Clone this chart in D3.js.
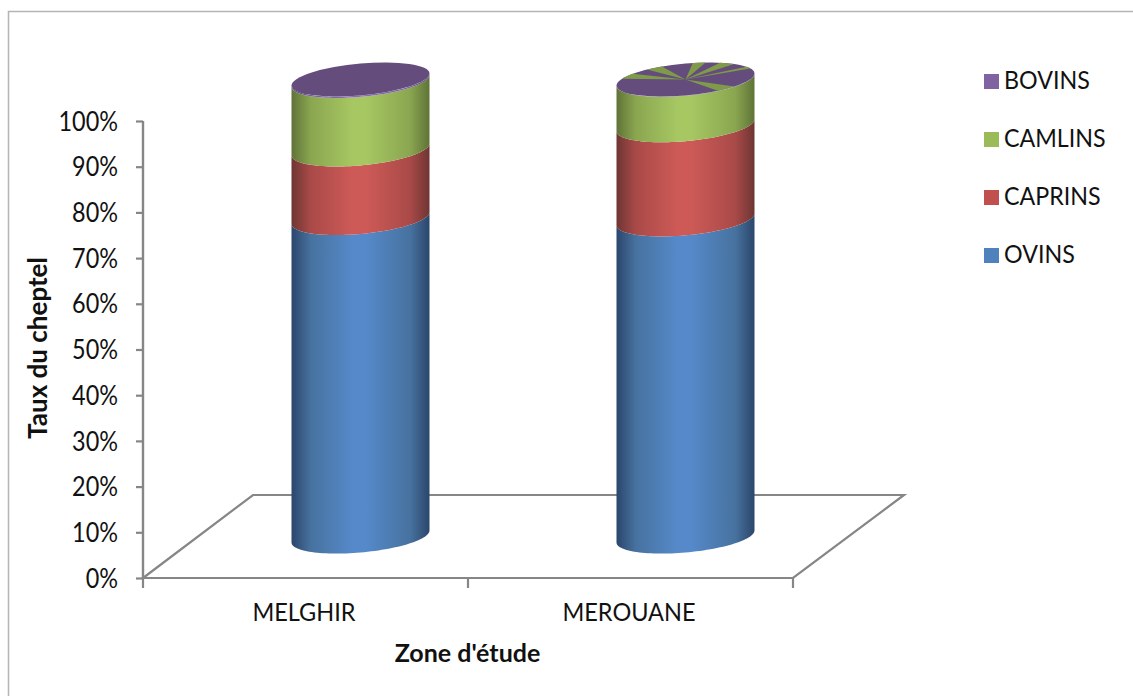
<!DOCTYPE html>
<html>
<head>
<meta charset="utf-8">
<style>
html,body{margin:0;padding:0;background:#fff;overflow:hidden}
svg{display:block}
text{font-family:Lato,"Liberation Sans",sans-serif;fill:#111}
</style>
<script src="https://cdn.jsdelivr.net/npm/d3@7/dist/d3.min.js"></script>
</head>
<body>
<svg id="chart" width="1133" height="696"></svg>
<script>
// Livestock share by study zone, stacked 3D cylinders
const zones = ["MELGHIR", "MEROUANE"];
const seriesNames = ["OVINS", "CAPRINS", "CAMLINS", "BOVINS"];
const ovins = [69.7, 69.4];
const caprins = [15.0, 20.6];
const camlins = [15.0, 9.95];
const bovins = [0.3, 0.05];
const seriesValues = [ovins, caprins, camlins, bovins];
const yTicks = [0, 10, 20, 30, 40, 50, 60, 70, 80, 90, 100];
// Sectors of the second cap where the camel colour shows through, degrees on the cap
const capWedges = [[203, 220], [236, 250], [276, 287], [300, 315], [332, 340], [45, 62]];

const palette = {
  OVINS:   {swatch: "#4f81bd", edge: "#2b466b", mid: "#47729f", light: "#5589c9"},
  CAPRINS: {swatch: "#c0504d", edge: "#6e3533", mid: "#a94a48", light: "#cd5a57"},
  CAMLINS: {swatch: "#9bbb59", edge: "#5f7337", mid: "#8aa650", light: "#a6c762"},
  BOVINS:  {swatch: "#8064a2", edge: "#5d4a76", mid: "#7560a0", light: "#8a6db0"}
};
const capPurple = "#644d7c";
const capGreen = "#7f9a48";
const axisGrey = "#868686";

const svg = d3.select("#chart");
const plot = {left: 143, right: 793, bottom: 578, top: 121};
const depth = {x: 110, y: -83};

const x = d3.scaleBand().domain(zones).range([plot.left, plot.right]);
const y = d3.scaleLinear().domain([0, 100]).range([plot.bottom, plot.top]);

// Squeeze a text selection horizontally, keeping its height
const narrow = (sel, factor) => sel.each(function () {
  this.setAttribute("textLength", this.getComputedTextLength() * factor);
  this.setAttribute("lengthAdjust", "spacingAndGlyphs");
});

// Horizontal shading that makes each band read as a curved surface
const defs = svg.append("defs");
seriesNames.forEach(name => {
  const c = palette[name];
  const g = defs.append("linearGradient").attr("id", "shade-" + name)
    .attr("x1", 0).attr("x2", 1).attr("y1", 0).attr("y2", 0);
  [[0, c.edge], [0.14, c.mid], [0.44, c.light], [0.54, c.light], [0.86, c.mid], [1, c.edge]].forEach(([o, col]) =>
    g.append("stop").attr("offset", o).attr("stop-color", col));
});

// Chart frame: only the top and left sides fall inside the canvas
svg.append("path").attr("d", "M8.5,696V11.5H1133").attr("fill", "none").attr("stroke", "#b5b5b5").attr("stroke-width", 1.5);

// Floor parallelogram
const floor = d3.line()([
  [plot.left, plot.bottom],
  [plot.left + depth.x, plot.bottom + depth.y],
  [plot.right + depth.x + 1, plot.bottom + depth.y],
  [plot.right, plot.bottom]
]);
svg.append("path").attr("d", floor + "Z").attr("fill", "none").attr("stroke", axisGrey).attr("stroke-width", 2.2);

// Value axis
const yAxis = svg.append("g").attr("transform", `translate(${plot.left},0)`)
  .call(d3.axisLeft(y).tickValues(yTicks).tickSize(7).tickPadding(18).tickFormat(d => d + "%"));
yAxis.select(".domain").attr("stroke", axisGrey).attr("stroke-width", 2.4).attr("d", `M0,${plot.top}V${plot.bottom}`);
yAxis.selectAll("line").attr("stroke", axisGrey).attr("stroke-width", 2.2);
yAxis.selectAll("text").attr("font-size", 26).attr("fill", "#111").attr("dy", "0.35em").call(narrow, 0.9);

// Category axis, ticks fall between the bands
const xAxis = svg.append("g").attr("transform", `translate(0,${plot.bottom})`);
xAxis.selectAll("line").data([0, 1, 2]).join("line")
  .attr("x1", i => plot.left + i * x.step()).attr("x2", i => plot.left + i * x.step())
  .attr("y1", 0).attr("y2", 10).attr("stroke", axisGrey).attr("stroke-width", 2.2);
xAxis.selectAll("text").data(zones).join("text")
  .attr("x", d => x(d) + x.bandwidth() / 2 - 1.5).attr("y", 43)
  .attr("text-anchor", "middle").attr("font-size", 25).text(d => d).call(narrow, 0.94);

// Cylinders
const stackData = zones.map((z, i) => {
  const row = {zone: z};
  seriesNames.forEach((s, j) => row[s] = seriesValues[j][i]);
  return row;
});
const stacked = d3.stack().keys(seriesNames)(stackData);

const radiusX = 69, radiusY = 16, skew = 6;
const centreX = z => x(z) + x.bandwidth() / 2 + depth.x / 2;
const centreY = v => y(v) + depth.y / 2;
const rim = (cx, cy, t) => [cx + radiusX * Math.cos(t), cy + radiusY * Math.sin(t) - skew * Math.cos(t)];
const frontAngles = d3.range(0, 61).map(i => Math.PI * i / 60);

stacked.forEach(layer => {
  svg.append("g").selectAll("path").data(layer).join("path")
    .attr("fill", `url(#shade-${layer.key})`)
    .attr("d", d => {
      const cx = centreX(d.data.zone);
      const lower = frontAngles.map(t => rim(cx, centreY(d[0]), t));
      const upper = frontAngles.map(t => rim(cx, centreY(d[1]), t)).reverse();
      return d3.line()(lower.concat(upper)) + "Z";
    });
});

// Top caps
const capTransform = (z, v) => {
  return `matrix(${radiusX},${-skew},0,${radiusY},${centreX(z)},${centreY(v)})`;
};
const unitArc = d3.arc().innerRadius(0).outerRadius(1);
zones.forEach(z => {
  svg.append("path").attr("transform", capTransform(z, 100))
    .attr("d", unitArc({startAngle: 0, endAngle: 2 * Math.PI})).attr("fill", capPurple);
});
svg.append("g").attr("transform", capTransform(zones[1], 100))
  .selectAll("path").data(capWedges).join("path")
  .attr("fill", capGreen)
  .attr("d", ([a, b]) => unitArc({
    startAngle: (a + 90) * Math.PI / 180,
    endAngle: (b + 90) * Math.PI / 180
  }));

// Axis titles
svg.append("text").attr("x", 467.5).attr("y", 662).attr("text-anchor", "middle")
  .attr("font-size", 25).attr("font-weight", 700).text("Zone d'étude");
svg.append("text").attr("transform", "translate(47,348) rotate(-90)").attr("text-anchor", "middle")
  .attr("font-size", 26).attr("font-weight", 700).text("Taux du cheptel");

// Legend, top entry is the top of the stack
const legendRows = seriesNames.slice().reverse();
const legendY = d3.scalePoint().domain(legendRows).range([81.5, 255.5]);
const legend = svg.append("g").selectAll("g").data(legendRows).join("g")
  .attr("transform", d => `translate(984,${legendY(d)})`);
legend.append("rect").attr("x", 0).attr("y", -7.5).attr("width", 15).attr("height", 15)
  .attr("fill", d => palette[d].swatch);
legend.append("text").attr("x", 20).attr("y", 7.5).attr("font-size", 25).text(d => d).call(narrow, 0.93);
</script>
</body>
</html>
